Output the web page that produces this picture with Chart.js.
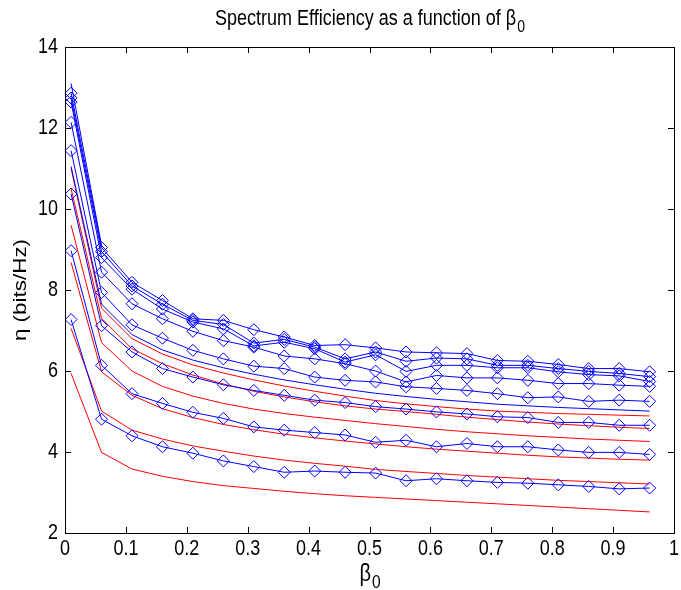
<!DOCTYPE html>
<html>
<head>
<meta charset="utf-8">
<script src="https://cdn.jsdelivr.net/npm/chart.js@4.4.1/dist/chart.umd.min.js"></script>
<style>
  html, body { margin: 0; padding: 0; background: #fff; }
  canvas { display: block; }
</style>
</head>
<body>
<canvas id="chart" width="681" height="590"></canvas>
<script>
// beta_0 sample points
const beta = [0.01, 0.06, 0.11, 0.16, 0.21, 0.26, 0.31, 0.36, 0.41, 0.46,
              0.51, 0.56, 0.61, 0.66, 0.71, 0.76, 0.81, 0.86, 0.91, 0.96];

// blue curves with diamond markers (top to bottom)
const sim1 = [12.86, 9.05, 8.19, 7.74, 7.29, 7.25, 7.02, 6.84, 6.63, 6.65, 6.57, 6.47, 6.45, 6.43, 6.26, 6.24, 6.16, 6.06, 6.06, 5.98];
const sim2 = [12.74, 8.95, 8.10, 7.65, 7.25, 7.15, 6.69, 6.78, 6.59, 6.30, 6.47, 6.24, 6.32, 6.30, 6.14, 6.14, 6.06, 5.99, 5.94, 5.86];
const sim3 = [12.64, 8.80, 8.02, 7.53, 7.21, 7.04, 6.62, 6.71, 6.55, 6.22, 6.40, 5.99, 6.14, 6.14, 6.08, 6.08, 5.98, 5.91, 5.88, 5.74];
const sim4 = [12.14, 8.44, 7.66, 7.29, 6.98, 6.75, 6.59, 6.37, 6.30, 6.18, 6.00, 5.73, 5.89, 5.83, 5.83, 5.77, 5.69, 5.69, 5.65, 5.62];
const sim5 = [11.44, 7.94, 7.14, 6.81, 6.51, 6.30, 6.12, 6.06, 5.85, 5.77, 5.73, 5.61, 5.57, 5.52, 5.44, 5.34, 5.36, 5.25, 5.28, 5.25];
const sim6 = [10.37, 7.12, 6.47, 6.06, 5.85, 5.66, 5.52, 5.40, 5.28, 5.22, 5.12, 5.06, 4.99, 4.94, 4.87, 4.85, 4.73, 4.73, 4.66, 4.66];
const sim7 = [8.97, 6.14, 5.44, 5.20, 4.98, 4.83, 4.62, 4.54, 4.48, 4.42, 4.24, 4.29, 4.13, 4.21, 4.13, 4.13, 4.05, 3.99, 3.99, 3.94];
const sim8 = [7.27, 4.81, 4.40, 4.13, 3.97, 3.78, 3.64, 3.50, 3.53, 3.50, 3.48, 3.29, 3.34, 3.29, 3.25, 3.23, 3.19, 3.15, 3.09, 3.11];

// blue curves without markers
const plain1 = [11.05, 7.65, 6.90, 6.52, 6.27, 6.08, 5.92, 5.78, 5.66, 5.55, 5.45, 5.37, 5.30, 5.24, 5.18, 5.14, 5.10, 5.07, 5.04, 5.01];
const plain2 = [13.10, 9.10];

// red curves (top to bottom)
const theo1 = [11.00, 7.55, 6.80, 6.42, 6.15, 5.95, 5.78, 5.63, 5.50, 5.38, 5.27, 5.19, 5.12, 5.06, 5.01, 4.98, 4.95, 4.93, 4.91, 4.89];
const theo2 = [10.50, 7.30, 6.55, 6.18, 5.90, 5.68, 5.50, 5.36, 5.24, 5.14, 5.06, 5.00, 4.93, 4.86, 4.80, 4.74, 4.69, 4.65, 4.61, 4.58];
const theo3 = [9.60, 6.70, 6.00, 5.62, 5.38, 5.20, 5.06, 4.95, 4.86, 4.78, 4.70, 4.63, 4.56, 4.50, 4.45, 4.40, 4.36, 4.32, 4.29, 4.26];
const theo4 = [8.68, 5.98, 5.40, 5.07, 4.85, 4.68, 4.55, 4.44, 4.35, 4.27, 4.20, 4.13, 4.07, 4.02, 3.97, 3.92, 3.88, 3.85, 3.82, 3.80];
const theo5 = [7.05, 5.01, 4.54, 4.32, 4.15, 4.02, 3.90, 3.80, 3.72, 3.65, 3.57, 3.52, 3.47, 3.42, 3.38, 3.34, 3.30, 3.27, 3.24, 3.21];
const theo6 = [5.94, 3.99, 3.58, 3.40, 3.27, 3.17, 3.10, 3.03, 2.97, 2.92, 2.88, 2.84, 2.80, 2.76, 2.72, 2.68, 2.64, 2.60, 2.56, 2.52];

const xTickValues = [0, 0.1, 0.2, 0.3, 0.4, 0.5, 0.6, 0.7, 0.8, 0.9, 1];
const xTickLabels = ['0', '0.1', '0.2', '0.3', '0.4', '0.5', '0.6', '0.7', '0.8', '0.9', '1'];
const yTickValues = [2, 4, 6, 8, 10, 12, 14];
const yTickLabels = ['2', '4', '6', '8', '10', '12', '14'];

const FONT = '"Liberation Sans", Arial, sans-serif';
const SY = 1.18; // text in the scan is a bit taller than wide

function pts(ys) {
    return ys.map((y, i) => ({ x: beta[i], y }));
}

function simLine(ys) {
    return {
        data: pts(ys),
        borderColor: '#0000ff',
        borderWidth: 1,
        pointStyle: 'rectRot',
        pointRadius: 6,
        pointBorderColor: '#0000ff',
        pointBorderWidth: 1,
        pointBackgroundColor: 'rgba(0,0,0,0)',
    };
}

function plainLine(ys, color) {
    return {
        data: pts(ys),
        borderColor: color,
        borderWidth: 1,
        pointRadius: 0,
    };
}

function stretchText(ctx, str, x, y, size, align) {
    ctx.save();
    ctx.translate(x, y);
    ctx.scale(1, SY);
    ctx.font = size + 'px ' + FONT;
    ctx.textAlign = align;
    ctx.textBaseline = 'middle';
    ctx.fillText(str, 0, 0);
    ctx.restore();
}

// "main" text followed by subscript, centred on cx
function subText(ctx, main, sub, cx, cy, size) {
    ctx.save();
    ctx.font = size + 'px ' + FONT;
    const w1 = ctx.measureText(main).width;
    ctx.font = (size * 0.78) + 'px ' + FONT;
    const w2 = ctx.measureText(sub).width;
    const x0 = cx - (w1 + w2) / 2;
    stretchText(ctx, main, x0, cy, size, 'left');
    stretchText(ctx, sub, x0 + w1 + 1, cy + size * 0.45, size * 0.78, 'left');
    ctx.restore();
}

const matlabAxes = {
    id: 'matlabAxes',
    afterDraw(chart) {
        const { ctx, chartArea: a, scales: { x, y } } = chart;
        ctx.save();
        ctx.strokeStyle = '#000';
        ctx.lineWidth = 1;
        ctx.strokeRect(a.left + 0.5, a.top + 0.5, a.right - a.left, a.bottom - a.top);

        const tl = 6;
        ctx.beginPath();
        xTickValues.forEach(v => {
            const px = Math.round(x.getPixelForValue(v)) + 0.5;
            ctx.moveTo(px, a.bottom);
            ctx.lineTo(px, a.bottom - tl);
            ctx.moveTo(px, a.top);
            ctx.lineTo(px, a.top + tl);
        });
        yTickValues.forEach(v => {
            const py = Math.round(y.getPixelForValue(v)) + 0.5;
            ctx.moveTo(a.left, py);
            ctx.lineTo(a.left + tl, py);
            ctx.moveTo(a.right, py);
            ctx.lineTo(a.right - tl, py);
        });
        ctx.stroke();

        ctx.fillStyle = '#000';
        xTickValues.forEach((v, i) => {
            stretchText(ctx, xTickLabels[i], x.getPixelForValue(v), a.bottom + 16, 18, 'center');
        });
        yTickValues.forEach((v, i) => {
            stretchText(ctx, yTickLabels[i], a.left - 7, y.getPixelForValue(v), 18, 'right');
        });

        // title and axis labels
        const cx = (a.left + a.right) / 2;
        subText(ctx, 'Spectrum Efficiency as a function of \u03B2', '0', cx, 19, 18);
        subText(ctx, '\u03B2', '0', cx, 574, 20);

        ctx.save();
        ctx.translate(21, (a.top + a.bottom) / 2);
        ctx.rotate(-Math.PI / 2);
        ctx.scale(SY, 1);
        ctx.font = '19px ' + FONT;
        ctx.textAlign = 'center';
        ctx.textBaseline = 'middle';
        ctx.fillText('\u03B7 (bits/Hz)', 0, 0);
        ctx.restore();

        ctx.restore();
    }
};

new Chart(document.getElementById('chart'), {
    type: 'line',
    data: {
        datasets: [
            simLine(sim1), simLine(sim2), simLine(sim3), simLine(sim4),
            simLine(sim5), simLine(sim6), simLine(sim7), simLine(sim8),
            plainLine(plain1, '#0000ff'), plainLine(plain2, '#0000ff'),
            plainLine(theo1, '#ff0000'), plainLine(theo2, '#ff0000'), plainLine(theo3, '#ff0000'),
            plainLine(theo4, '#ff0000'), plainLine(theo5, '#ff0000'), plainLine(theo6, '#ff0000'),
        ],
    },
    options: {
        responsive: false,
        animation: false,
        events: [],
        layout: { padding: { left: 0, right: 2, top: 47, bottom: 0 } },
        elements: { line: { tension: 0 } },
        plugins: { legend: { display: false }, tooltip: { enabled: false } },
        scales: {
            x: {
                type: 'linear', min: 0, max: 1,
                grid: { display: false, drawTicks: false },
                border: { display: false },
                ticks: { display: false },
                afterBuildTicks: s => { s.ticks = xTickValues.map(v => ({ value: v })); },
                afterFit: s => { s.height = 57; s.paddingLeft = 0; s.paddingRight = 0; },
            },
            y: {
                type: 'linear', min: 2, max: 14,
                grid: { display: false, drawTicks: false },
                border: { display: false },
                ticks: { display: false },
                afterBuildTicks: s => { s.ticks = yTickValues.map(v => ({ value: v })); },
                afterFit: s => { s.width = 65; s.paddingTop = 0; s.paddingBottom = 0; },
            },
        },
    },
    plugins: [matlabAxes],
});
</script>
</body>
</html>
